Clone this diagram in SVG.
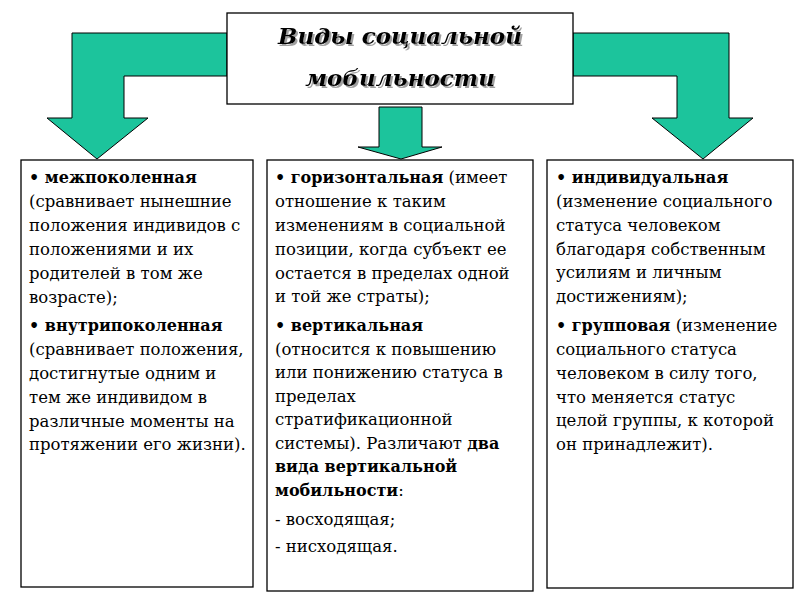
<svg xmlns="http://www.w3.org/2000/svg" width="800" height="600" viewBox="0 0 800 600">
<defs>
<filter id="shadow" x="-10%" y="-30%" width="120%" height="160%">
<feDropShadow dx="2" dy="2" stdDeviation="0.6" flood-color="#888" flood-opacity="0.8"/>
</filter>
</defs>
<style>
.arrow{fill:#1cc49c;stroke:#000;stroke-width:1}
.box{fill:#fff;stroke:#000;stroke-width:1.3}
.t{font-size:16.5px;fill:#000}
.b{font-weight:bold;font-size:16px}
.title{font-size:23px;font-weight:bold;font-style:italic;text-anchor:middle;fill:#000}
</style>
<rect width="800" height="600" fill="#fff"/>
<g id="connectors">
<polygon class="arrow" points="227,33 72,33 72,118 47,118 97,159 148,118 124,118 124,76 227,76"/>
<polygon class="arrow" points="573,33 729,33 729,118 753,118 703,159 652,118 677,118 677,76 573,76"/>
<polygon class="arrow" points="379,107 422,107 422,147 442,147 401,159 358,147 379,147"/>
</g>
<g id="title" font-family="DejaVu Serif, serif">
<rect class="box" x="227" y="13" width="346" height="91"/>
<text class="title" x="400" y="44" filter="url(#shadow)">Виды социальной</text>
<text class="title" x="400" y="86" filter="url(#shadow)">мобильности</text>
</g>
<g id="box-left" font-family="DejaVu Serif, serif">
<rect class="box" x="21" y="160" width="232" height="427"/>
<text class="t" x="29" y="183"><tspan class="b">• межпоколенная</tspan></text>
<text class="t" x="29" y="207">(сравнивает нынешние</text>
<text class="t" x="29" y="231">положения индивидов с</text>
<text class="t" x="29" y="255">положениями и их</text>
<text class="t" x="29" y="279">родителей в том же</text>
<text class="t" x="29" y="303">возрасте);</text>
<text class="t" x="29" y="331"><tspan class="b">• внутрипоколенная</tspan></text>
<text class="t" x="29" y="355">(сравнивает положения,</text>
<text class="t" x="29" y="379">достигнутые одним и</text>
<text class="t" x="29" y="403">тем же индивидом в</text>
<text class="t" x="29" y="427">различные моменты на</text>
<text class="t" x="29" y="450">протяжении его жизни).</text>
</g>
<g id="box-middle" font-family="DejaVu Serif, serif">
<rect class="box" x="267" y="160" width="266" height="431"/>
<text class="t" x="275" y="183"><tspan class="b">• горизонтальная</tspan> (имеет</text>
<text class="t" x="275" y="207">отношение к таким</text>
<text class="t" x="275" y="231">изменениям в социальной</text>
<text class="t" x="275" y="255">позиции, когда субъект ее</text>
<text class="t" x="275" y="279">остается в пределах одной</text>
<text class="t" x="275" y="302">и той же страты);</text>
<text class="t" x="275" y="331"><tspan class="b">• вертикальная</tspan></text>
<text class="t" x="275" y="355">(относится к повышению</text>
<text class="t" x="275" y="378">или понижению статуса в</text>
<text class="t" x="275" y="402">пределах</text>
<text class="t" x="275" y="425">стратификационной</text>
<text class="t" x="275" y="449">системы). Различают <tspan class="b">два</tspan></text>
<text class="t" x="275" y="472"><tspan class="b">вида вертикальной</tspan></text>
<text class="t" x="275" y="496"><tspan class="b">мобильности</tspan>:</text>
<text class="t" x="275" y="525">- восходящая;</text>
<text class="t" x="275" y="552">- нисходящая.</text>
</g>
<g id="box-right" font-family="DejaVu Serif, serif">
<rect class="box" x="547" y="160" width="246" height="428"/>
<text class="t" x="556" y="183"><tspan class="b">• индивидуальная</tspan></text>
<text class="t" x="556" y="207">(изменение социального</text>
<text class="t" x="556" y="231">статуса человеком</text>
<text class="t" x="556" y="255">благодаря собственным</text>
<text class="t" x="556" y="278">усилиям и личным</text>
<text class="t" x="556" y="302">достижениям);</text>
<text class="t" x="556" y="331"><tspan class="b">• групповая</tspan> (изменение</text>
<text class="t" x="556" y="355">социального статуса</text>
<text class="t" x="556" y="379">человеком в силу того,</text>
<text class="t" x="556" y="403">что меняется статус</text>
<text class="t" x="556" y="426">целой группы, к которой</text>
<text class="t" x="556" y="450">он принадлежит).</text>
</g>
</svg>
